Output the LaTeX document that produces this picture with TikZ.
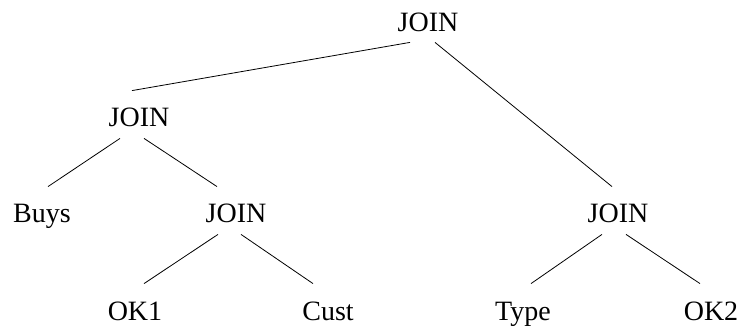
\documentclass[tikz,border=0pt]{standalone}
\usepackage{fontspec}
\setmainfont{Liberation Serif}

\begin{document}
\begin{tikzpicture}[x=1pt,y=-1pt,line width=0.8pt,
  rel/.style={inner sep=0pt,anchor=base,text height=19pt,text depth=0pt,
    font=\fontsize{28}{34}\selectfont}]
  \useasboundingbox (0,0) rectangle (743,328);
  \node[rel] (top) at (428,32) {JOIN};
  \node[rel] (left) at (139,127) {JOIN};
  \node[rel] (right) at (618,223) {JOIN};
  \node[rel] (mid) at (236,223) {JOIN};
  \node[rel] (buys) at (42,223) {Buys};
  \node[rel] (ok1) at (135,320) {OK1};
  \node[rel] (cust) at (328,320) {Cust};
  \node[rel] (type) at (523,320) {Type};
  \node[rel] (ok2) at (711,320) {OK2};
  \draw ([xshift=-18pt,yshift=-10pt]top.south) -- ([xshift=-7pt,yshift=17pt]left.north);
  \draw ([xshift=7pt,yshift=-10pt]top.south) -- ([xshift=-6pt,yshift=17pt]right.north);
  \draw ([xshift=-19pt,yshift=-11pt]left.south) -- ([xshift=6pt,yshift=17pt]buys.north);
  \draw ([xshift=5pt,yshift=-11pt]left.south) -- ([xshift=-19pt,yshift=17pt]mid.north);
  \draw ([xshift=-18pt,yshift=-11pt]mid.south) -- ([xshift=9pt,yshift=17pt]ok1.north);
  \draw ([xshift=5pt,yshift=-11pt]mid.south) -- ([xshift=-15pt,yshift=17pt]cust.north);
  \draw ([xshift=-16pt,yshift=-11pt]right.south) -- ([xshift=8pt,yshift=17pt]type.north);
  \draw ([xshift=8pt,yshift=-11pt]right.south) -- ([xshift=-11pt,yshift=17pt]ok2.north);
\end{tikzpicture}
\end{document}
